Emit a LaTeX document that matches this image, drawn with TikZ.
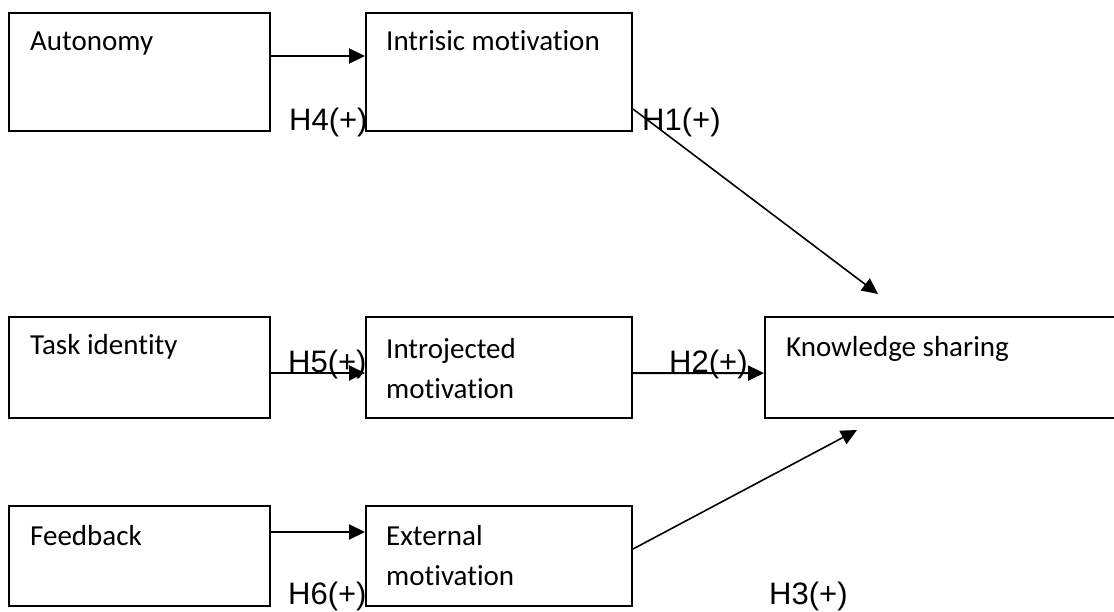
\documentclass[tikz,border=0pt]{standalone}
\usepackage{fontspec}
\setmainfont{Carlito}[Ligatures=NoCommon]
\newfontfamily\labelfont{Liberation Sans}
\usetikzlibrary{arrows.meta,calc}

\tikzset{
  box/.style={draw=black, line width=2pt, rectangle, inner sep=0pt, fill=white},
  boxtext/.style={anchor=base west, inner sep=0pt, font=\fontsize{29}{40}\selectfont, align=left},
  hyp/.style={anchor=base west, inner sep=0pt, font=\labelfont\fontsize{31}{36}\selectfont},
  link/.style={draw=black, line width=2pt, -{Triangle[length=16pt,width=15pt]}},
  slant/.style={draw=black, line width=1.6pt, -{Triangle[length=16pt,width=15pt]}}
}

\begin{document}
\begin{tikzpicture}[x=1pt, y=-1pt]
  \clip (0,0) rectangle (1114,611);
  \fill[white] (0,0) rectangle (1114,611);

  % boxes
  \node[box, minimum width=261pt, minimum height=118pt] (aut)   at (139.5, 71.7)  {};
  \node[box, minimum width=266pt, minimum height=118pt] (intr)  at (499, 71.7)    {};
  \node[box, minimum width=261pt, minimum height=101pt] (task)  at (139.5, 367.4) {};
  \node[box, minimum width=266pt, minimum height=101pt] (intro) at (499, 367.4)   {};
  \node[box, minimum width=370pt, minimum height=101pt] (ks)    at (950, 367.5)   {};
  \node[box, minimum width=261pt, minimum height=100pt] (fb)    at (139.5, 556)   {};
  \node[box, minimum width=266pt, minimum height=100pt] (ext)   at (499, 556)     {};

  % box captions (two-line captions are placed by their last baseline)
  \node[boxtext] (tAut)   at ($(aut.north west)+(22,39)$)    {Autonomy};
  \node[boxtext] (tIntr)  at ($(intr.north west)+(21,39)$)   {Intrisic motivation};
  \node[boxtext] (tTask)  at ($(task.north west)+(22,38.5)$) {Task identity};
  \node[boxtext] (tIntro) at ($(intro.north west)+(21,83)$)  {Introjected\\motivation};
  \node[boxtext] (tKs)    at ($(ks.north west)+(22,40)$)     {Knowledge sharing};
  \node[boxtext] (tFb)    at ($(fb.north west)+(22,40)$)     {Feedback};
  \node[boxtext] (tExt)   at ($(ext.north west)+(21,80)$)    {External\\motivation};

  % free ends of the slanted arrows
  \coordinate (h1end) at (878, 294);
  \coordinate (h3end) at (857, 430);

  % connectors
  \draw[link] ([yshift=15.7pt]aut.east) -- ([yshift=15.7pt]intr.west);
  \draw[link] ([yshift=-5.6pt]task.east) -- ([yshift=-5.6pt]intro.west);
  \draw[link] ([yshift=-5.6pt]intro.east) -- ([yshift=-5.6pt]ks.west);
  \draw[link] ([yshift=24pt]fb.east) -- ([yshift=24pt]ext.west);
  \draw[slant] ([yshift=-37.3pt]intr.east) -- (h1end);
  \draw[slant] ([yshift=7pt]ext.east) -- (h3end);

  % hypothesis labels
  \node[hyp] (h4) at (289, 130) {H4(+)};
  \node[hyp] (h1) at (642, 130) {H1(+)};
  \node[hyp] (h5) at (288, 372) {H5(+)};
  \node[hyp] (h2) at (669, 372) {H2(+)};
  \node[hyp] (h6) at (288, 604) {H6(+)};
  \node[hyp] (h3) at (769, 604) {H3(+)};
\end{tikzpicture}
\end{document}
